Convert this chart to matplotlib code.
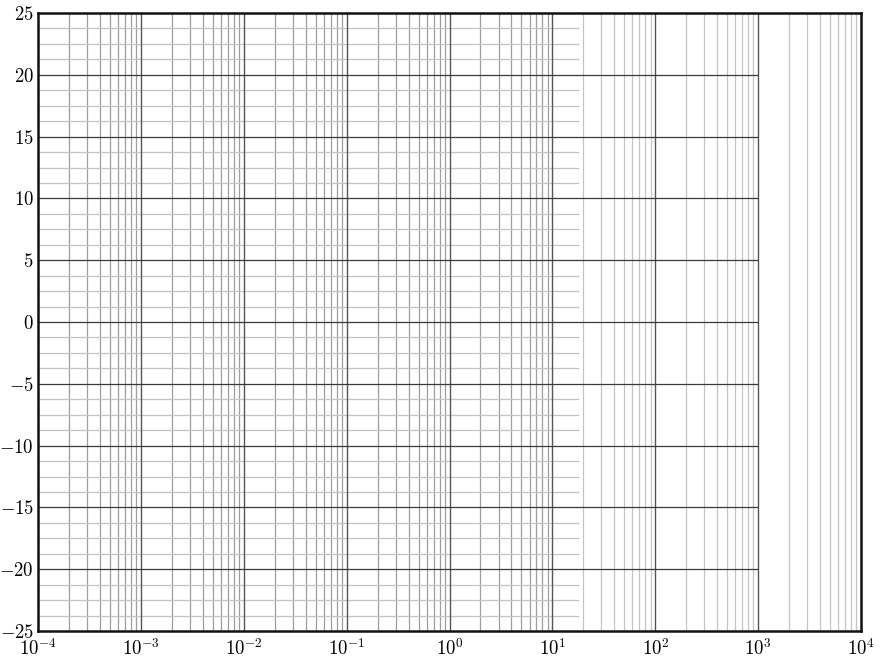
import numpy as np
import matplotlib
matplotlib.use("Agg")
import matplotlib.pyplot as plt

plt.rcParams['mathtext.fontset'] = 'cm'
plt.rcParams['font.family'] = ['DejaVu Serif']

# axis extents
x_limits = [1e-4, 1e4]
y_limits = [-25, 25]
decade_exponents = [-4, -3, -2, -1, 0, 1, 2, 3, 4]
minor_multipliers = [2, 3, 4, 5, 6, 7, 8, 9]
y_major_values = [-25, -20, -15, -10, -5, 0, 5, 10, 15, 20, 25]
y_minor_values = [v + d for v in [-25, -20, -15, -10, -5, 0, 5, 10, 15, 20]
                  for d in (1.25, 2.5, 3.75)]
minor_h_end = 18.0     # fine horizontal grid stops here
major_h_end = 1e3      # major horizontal grid stops here
fine_region_end = 10.0  # minor verticals darker up to here

fig = plt.figure(figsize=(8.8, 6.6), dpi=100)
ax = fig.add_axes([38/880, 1 - 631/660, (861-38)/880, (631-13)/660])
ax.set_xscale('log')
ax.set_xlim(*x_limits)
ax.set_ylim(*y_limits)

# vertical minor lines
for e in decade_exponents[:-1]:
    for m in minor_multipliers:
        x = m * 10.0**e
        col = '#9e9e9e' if x < fine_region_end else '#c4c4c4'
        ax.axvline(x, color=col, lw=0.9, zorder=1)
# horizontal minor lines
ax.hlines(y_minor_values, x_limits[0], minor_h_end, color='#c4c4c4', lw=0.9, zorder=1)
# vertical major lines
for e in decade_exponents[1:-1]:
    ax.axvline(10.0**e, color='#555555', lw=1.0, zorder=2)
# horizontal major lines
ax.hlines(y_major_values[1:-1], x_limits[0], major_h_end, color='#3a3a3a', lw=0.9, zorder=2)

ax.set_xticks([10.0**e for e in decade_exponents])
ax.set_xticklabels([r'$10^{%d}$' % e for e in decade_exponents])
ax.set_xticks([], minor=True)
ax.set_yticks(y_major_values)
ax.set_yticklabels([r'$%d$' % v for v in y_major_values])
ax.tick_params(axis='both', which='both', length=0, labelsize=13.5)
ax.tick_params(axis='x', pad=5)
ax.tick_params(axis='y', pad=3)
for s in ax.spines.values():
    s.set_linewidth(1.8)
    s.set_color('#111111')
    s.set_zorder(5)

fig.savefig('out.png', dpi=100)
